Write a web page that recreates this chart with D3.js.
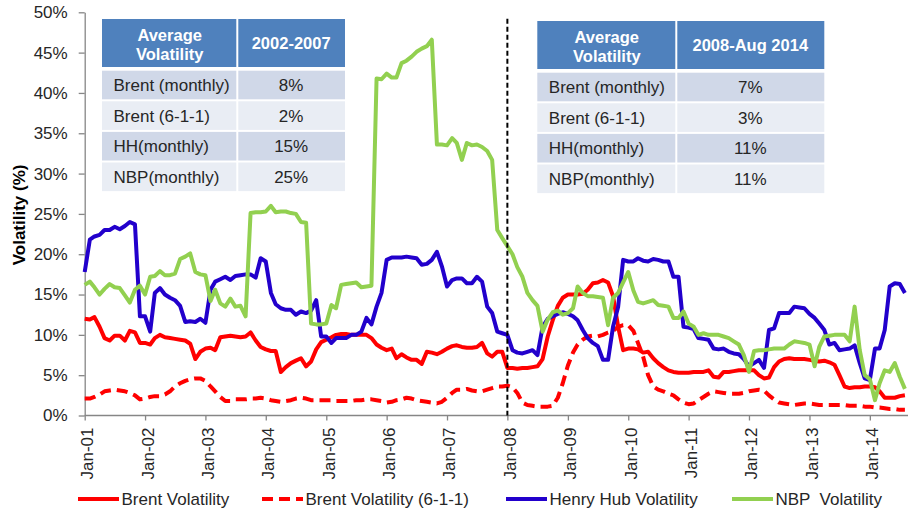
<!DOCTYPE html>
<html>
<head>
<meta charset="utf-8">
<script src="https://cdn.jsdelivr.net/npm/d3@7"></script>
<style>
  body { margin: 0; background: #fff; }
  svg { font-family: "Liberation Sans", Arial, sans-serif; }
</style>
</head>
<body>
<div id="vis-container"></div>
<script>
// Monthly volatility (%), Jan-01 .. Aug-14
const brent = [
  12.0, 11.9, 12.2, 11.0, 9.6, 9.3, 9.9, 9.9, 9.3, 10.5, 10.3, 9.0,
  9.0, 8.8, 9.6, 10.0, 9.7, 9.6, 9.5, 9.4, 9.3, 8.9, 7.0, 7.9,
  8.3, 8.4, 8.1, 9.7, 9.8, 9.9, 9.8, 9.7, 9.8, 10.3, 9.3, 8.5,
  8.2, 8.0, 8.0, 5.4, 6.0, 6.5, 6.8, 7.1, 6.1, 6.7, 8.2, 9.1,
  9.4, 9.7, 10.0, 10.1, 10.1, 10.0, 10.0, 10.0, 10.0, 9.6, 8.8, 8.4,
  8.1, 8.3, 7.1, 7.6, 7.2, 6.9, 6.9, 6.4, 7.9, 7.8, 7.6, 7.9,
  8.3, 8.6, 8.7, 8.5, 8.4, 8.4, 8.5, 9.0, 7.7, 7.3, 7.9, 7.9,
  5.9, 5.9, 5.8, 5.9, 5.9, 6.0, 6.1, 7.0, 9.8, 11.8, 13.6, 14.6,
  15.0, 15.0, 15.0, 15.1, 15.6, 16.4, 16.5, 16.8, 16.5, 14.8, 11.0, 8.1,
  8.3, 8.3, 8.2, 7.8, 7.9, 7.1, 6.5, 6.0, 5.6, 5.4, 5.3, 5.3,
  5.3, 5.4, 5.4, 5.4, 5.6, 4.8, 4.7, 5.4, 5.4, 5.5, 5.6, 5.6,
  5.6, 5.6, 5.0, 4.6, 4.7, 6.0, 6.7, 7.0, 7.1, 7.0, 7.0, 7.0,
  6.9, 6.8, 6.7, 6.8, 6.6, 6.3, 5.0, 3.6, 3.4, 3.5, 3.5, 3.6,
  3.6, 3.5, 3.0, 2.2, 2.2, 2.2, 2.4, 2.5
];
const brent611 = [
  2.1, 2.1, 2.3, 2.6, 3.0, 3.1, 3.2, 3.1, 3.0, 2.8, 2.5, 2.0,
  2.1, 2.3, 2.4, 2.4, 2.6, 3.0, 3.6, 4.0, 4.3, 4.5, 4.6, 4.6,
  4.3, 3.6, 3.0, 2.3, 1.8, 1.8, 2.0, 2.0, 2.0, 2.1, 2.1, 2.2,
  2.1, 1.9, 1.8, 1.7, 1.8, 1.9, 2.1, 2.2, 2.1, 1.9, 1.9, 1.9,
  1.9, 1.9, 1.8, 1.8, 1.8, 1.8, 1.9, 1.9, 2.0, 2.0, 1.9, 1.8,
  1.6, 1.7, 1.9, 2.0, 2.2, 2.1, 1.9, 1.8, 1.7, 1.6, 1.5, 1.7,
  2.2, 2.8, 3.2, 3.2, 3.3, 3.1, 3.0, 3.0, 3.2, 3.4, 3.6, 3.6,
  3.7, 3.5, 2.8, 1.6, 1.3, 1.2, 1.1, 1.1, 1.1, 1.2, 2.2, 4.0,
  6.2, 7.8, 8.8, 9.4, 9.8, 9.9, 9.8, 10.0, 10.3, 10.5, 11.0, 11.2,
  11.2, 10.5, 9.0, 7.3, 5.0, 3.6, 3.2, 3.0, 2.7, 2.5, 2.0, 1.6,
  1.4, 1.5, 1.9, 2.3, 2.7, 3.0, 2.9, 2.8, 2.7, 2.7, 2.7, 2.8,
  3.0, 3.1, 3.2, 3.1, 2.5, 2.0, 1.6, 1.5, 1.4, 1.3, 1.4, 1.5,
  1.5, 1.4, 1.3, 1.3, 1.3, 1.3, 1.3, 1.3, 1.2, 1.2, 1.2, 1.1,
  1.1, 1.0, 1.0, 0.9, 0.8, 0.8, 0.7, 0.7
];
const henryHub = [
  17.8, 21.8, 22.2, 22.4, 23.0, 23.0, 23.4, 23.1, 23.5, 24.0, 23.7, 12.3,
  12.3, 10.4, 15.2, 15.8, 15.0, 14.6, 14.3, 13.6, 11.6, 11.7, 11.6, 12.0,
  11.5, 15.6, 16.6, 16.9, 17.2, 16.8, 17.3, 17.4, 17.5, 17.5, 17.1, 19.5,
  19.1, 15.2, 13.8, 13.3, 13.1, 13.1, 12.5, 12.9, 12.7, 13.0, 14.3, 9.8,
  9.8, 9.0, 9.6, 9.6, 9.6, 10.0, 10.0, 10.4, 12.1, 11.3, 13.5, 15.2,
  19.3, 19.6, 19.6, 19.6, 19.7, 19.6, 19.5, 18.7, 18.8, 19.3, 20.3, 18.5,
  16.0, 16.8, 17.0, 17.0, 16.4, 16.4, 17.2, 16.6, 13.5, 12.7, 10.4, 10.2,
  10.0, 8.1, 7.8, 7.7, 7.9, 8.1, 7.5, 11.0, 12.0, 12.3, 12.6, 12.8,
  12.6, 12.3, 11.8, 10.6, 9.6, 9.0, 8.6, 6.9, 6.9, 11.0, 13.5, 19.3,
  19.1, 19.1, 19.5, 19.2, 19.1, 19.4, 19.3, 19.1, 19.1, 17.2, 17.2, 11.0,
  10.9, 10.7, 9.6, 9.5, 9.4, 8.3, 8.2, 8.3, 7.9, 7.7, 7.6, 7.0,
  6.1, 6.5, 6.9, 5.9, 10.6, 10.8, 12.7, 12.7, 12.7, 13.5, 13.4, 13.3,
  12.6, 12.1, 11.4, 10.6, 8.8, 9.0, 8.1, 8.2, 8.3, 8.7, 6.5, 4.6,
  4.4, 8.3, 8.3, 10.6, 16.0, 16.4, 16.3, 15.2
];
const nbp = [
  16.2, 16.6, 15.9, 15.0, 15.7, 16.3, 15.9, 15.8, 14.9, 14.0, 15.6, 16.1,
  15.0, 17.2, 17.3, 17.9, 17.4, 17.4, 17.6, 19.4, 19.7, 20.1, 17.8, 17.5,
  17.4, 14.2, 15.6, 13.9, 13.5, 14.5, 13.5, 13.6, 12.3, 25.1, 25.2, 25.2,
  25.3, 26.0, 25.2, 25.3, 25.3, 25.1, 25.0, 24.0, 23.9, 11.4, 11.3, 11.3,
  11.4, 13.7, 13.3, 16.2, 16.3, 16.4, 16.5, 15.9, 16.0, 16.1, 41.8, 41.7,
  42.4, 41.9, 41.9, 43.7, 44.0, 44.5, 45.1, 45.5, 45.8, 46.6, 33.6, 33.6,
  33.5, 34.4, 33.8, 31.7, 33.8, 33.5, 33.6, 33.3, 32.8, 31.7, 23.0, 22.0,
  21.0, 20.0, 18.4, 17.2, 15.2, 14.3, 13.6, 10.4, 11.9, 12.8, 13.0, 12.5,
  12.7, 13.3, 16.0, 15.2, 14.8, 14.8, 14.7, 14.6, 11.2, 14.6, 15.2, 16.5,
  17.8, 15.5, 14.1, 13.9, 14.1, 14.3, 13.7, 13.6, 13.5, 12.1, 12.1, 12.9,
  11.4, 11.0, 10.0, 10.2, 10.0, 10.0, 10.0, 9.8, 9.6, 9.2, 8.8, 7.5,
  5.4, 8.0, 8.1, 8.1, 8.2, 8.3, 8.3, 8.3, 8.8, 9.2, 9.1, 9.0,
  8.8, 6.1, 8.5, 9.8, 9.9, 10.0, 10.0, 10.0, 9.2, 13.5, 8.1, 5.0,
  4.5, 1.9, 4.0, 5.6, 5.4, 6.5, 4.8, 3.3
];

// Categories: one per month
const months = d3.timeMonth.range(new Date(2001, 0, 1), new Date(2014, 8, 1));
const yTicks = [0, 5, 10, 15, 20, 25, 30, 35, 40, 45, 50];
const splitDate = new Date(2008, 0, 1);

// Table contents
const tableRowNames = ["Brent (monthly)", "Brent (6-1-1)", "HH(monthly)", "NBP(monthly)"];
const avgPeriod1 = ["8%", "2%", "15%", "25%"];
const avgPeriod2 = ["7%", "3%", "11%", "11%"];
const period1 = "2002-2007";
const period2 = "2008-Aug 2014";

const series = [
  { name: "Brent Volatility", values: brent, color: "#ff0000", dash: null },
  { name: "Brent Volatility (6-1-1)", values: brent611, color: "#ff0000", dash: "11,6" },
  { name: "Henry Hub Volatility", values: henryHub, color: "#2200cc", dash: null },
  { name: "NBP  Volatility", values: nbp, color: "#92d050", dash: null }
];

const width = 909;
const height = 514;
const axisColor = "#868686";

const svg = d3.select("#vis-container")
  .append("svg")
  .attr("width", width)
  .attr("height", height)
  .attr("viewBox", [0, 0, width, height]);

// Scales
const x = d3.scaleTime()
  .domain([months[0], months[months.length - 1]])
  .range([84.7, 904.9]);

const y = d3.scaleLinear()
  .domain([0, 50])
  .range([415.5, 12.3]);

// Y axis
svg.append("g")
  .attr("transform", `translate(${x.range()[0]},0)`)
  .call(d3.axisLeft(y).tickValues(yTicks).tickFormat(d => d + "%").tickSize(6).tickPadding(11).tickSizeOuter(0))
  .call(g => g.select(".domain").attr("stroke", axisColor).attr("stroke-width", 1.3))
  .call(g => g.selectAll(".tick line").attr("stroke", axisColor).attr("stroke-width", 1.3))
  .call(g => g.selectAll(".tick text")
    .attr("fill", "#262626")
    .attr("font-size", "17px")
    .attr("font-family", "Liberation Sans, Arial, sans-serif"));

// X axis
svg.append("g")
  .attr("transform", `translate(0,${y(0)})`)
  .call(d3.axisBottom(x).ticks(d3.timeYear.every(1)).tickFormat(d3.timeFormat("Jan-%y")).tickSize(5).tickSizeOuter(0))
  .call(g => g.select(".domain").remove())
  .call(g => g.selectAll(".tick line").attr("stroke", axisColor).attr("stroke-width", 1.3))
  .call(g => g.selectAll(".tick text")
    .attr("fill", "#262626")
    .attr("font-size", "17px")
    .attr("font-family", "Liberation Sans, Arial, sans-serif")
    .attr("transform", "rotate(-90)")
    .attr("text-anchor", "end")
    .attr("x", -12)
    .attr("y", 2)
    .attr("dy", "0.35em"));

svg.append("line")
  .attr("x1", x.range()[0])
  .attr("x2", width - 1)
  .attr("y1", y(0))
  .attr("y2", y(0))
  .attr("stroke", axisColor)
  .attr("stroke-width", 1.3);

// Y axis title
svg.append("text")
  .attr("transform", `translate(25,${y(25) + 1}) rotate(-90)`)
  .attr("text-anchor", "middle")
  .attr("font-size", "17px")
  .attr("font-weight", "bold")
  .attr("fill", "#000")
  .text("Volatility (%)");

// Lines
const line = d3.line()
  .x((d, i) => x(months[i]))
  .y(d => y(d));

svg.selectAll(".series")
  .data(series)
  .enter()
  .append("path")
  .attr("class", "series")
  .attr("d", d => line(d.values))
  .attr("fill", "none")
  .attr("stroke", d => d.color)
  .attr("stroke-width", 4)
  .attr("stroke-linejoin", "round")
  .attr("stroke-dasharray", d => d.dash);

// Vertical split line at Jan-08
svg.append("line")
  .attr("x1", x(splitDate))
  .attr("x2", x(splitDate))
  .attr("y1", y(49.2))
  .attr("y2", y(0))
  .attr("stroke", "#000")
  .attr("stroke-width", 2)
  .attr("stroke-dasharray", "5,3");

// Tables
function drawTable(left, mid, right, top, period, values) {
  const g = svg.append("g");
  const headH = 48;
  const rowTop = top + 51.7;
  const rowH = 30.6;

  g.append("rect").attr("x", left).attr("y", top).attr("width", mid - left - 1).attr("height", headH).attr("fill", "#4f81bd");
  g.append("rect").attr("x", mid + 1).attr("y", top).attr("width", right - mid - 1).attr("height", headH).attr("fill", "#4f81bd");

  const head = g.append("text")
    .attr("x", (left + mid) / 2)
    .attr("y", top + headH / 2)
    .attr("text-anchor", "middle")
    .attr("font-size", "16.5px")
    .attr("font-weight", "bold")
    .attr("fill", "#fff");
  head.append("tspan").attr("x", (left + mid) / 2).attr("dy", "-0.15em").text("Average");
  head.append("tspan").attr("x", (left + mid) / 2).attr("dy", "1.15em").text("Volatility");

  g.append("text")
    .attr("x", (mid + right) / 2)
    .attr("y", top + headH / 2)
    .attr("dy", "0.36em")
    .attr("text-anchor", "middle")
    .attr("font-size", "16.5px")
    .attr("font-weight", "bold")
    .attr("fill", "#fff")
    .text(period);

  tableRowNames.forEach((name, i) => {
    const ry = rowTop + i * rowH;
    const fill = i % 2 === 0 ? "#d0d8e8" : "#e9edf4";
    g.append("rect").attr("x", left).attr("y", ry).attr("width", mid - left - 1).attr("height", rowH - 2).attr("fill", fill);
    g.append("rect").attr("x", mid + 1).attr("y", ry).attr("width", right - mid - 1).attr("height", rowH - 2).attr("fill", fill);
    g.append("text")
      .attr("x", left + 11.5)
      .attr("y", ry + (rowH - 2) / 2)
      .attr("dy", "0.36em")
      .attr("font-size", "17px")
      .attr("fill", "#262626")
      .text(name);
    g.append("text")
      .attr("x", (mid + right) / 2)
      .attr("y", ry + (rowH - 2) / 2)
      .attr("dy", "0.36em")
      .attr("text-anchor", "middle")
      .attr("font-size", "17px")
      .attr("fill", "#262626")
      .text(values[i]);
  });
}

drawTable(102, 237.3, 345, 19, period1, avgPeriod1);
drawTable(537.3, 676.3, 824.3, 21, period2, avgPeriod2);

// Legend
const legendX = [78, 262, 506, 732];
const legend = svg.append("g").attr("transform", "translate(0,499)");
series.forEach((s, i) => {
  legend.append("line")
    .attr("x1", legendX[i])
    .attr("x2", legendX[i] + 41)
    .attr("y1", 0)
    .attr("y2", 0)
    .attr("stroke", s.color)
    .attr("stroke-width", 4)
    .attr("stroke-dasharray", s.dash);
  legend.append("text")
    .attr("x", legendX[i] + 43.5)
    .attr("y", 0)
    .attr("dy", "0.36em")
    .attr("font-size", "17px")
    .attr("fill", "#262626")
    .attr("xml:space", "preserve")
    .style("white-space", "pre")
    .text(s.name);
});
</script>
</body>
</html>
